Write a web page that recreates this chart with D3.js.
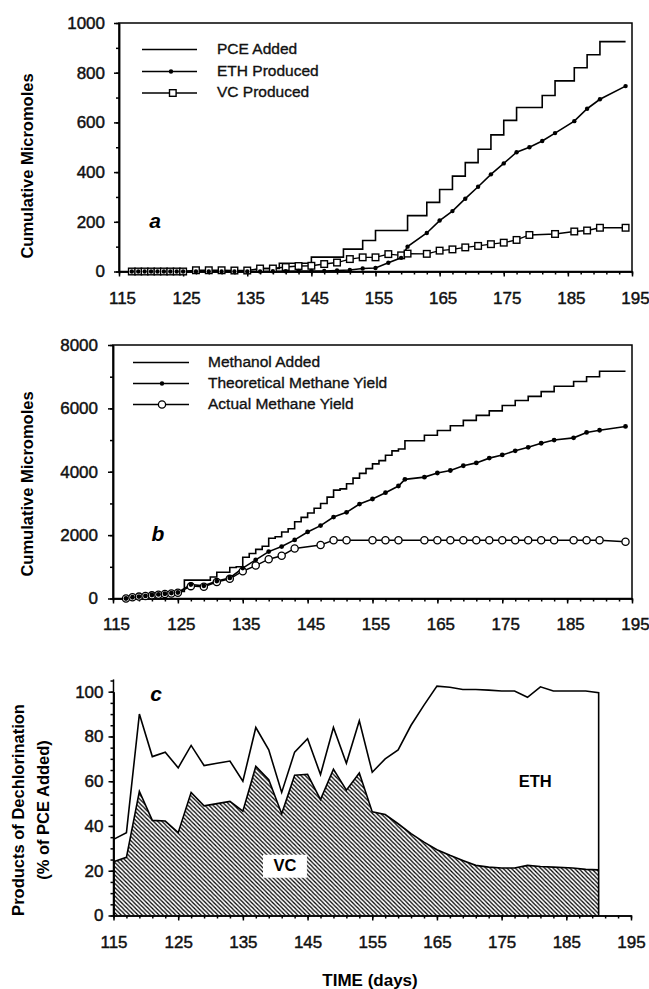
<!DOCTYPE html>
<html>
<head>
<meta charset="utf-8">
<script src="https://cdn.jsdelivr.net/npm/d3@7"></script>
<style>
  body { margin: 0; background: #fff; }
  svg { font-family: "Liberation Sans", Arial, Helvetica, sans-serif; }
</style>
</head>
<body>
<svg id="chart" width="649" height="989"></svg>
<script>
// ---- panel a : cumulative micromoles of PCE / ETH / VC ----
const daysA = [117,118,119,120,121,122,123,124,125,127,129,131,133,135,137,139,141,143,145,147,149,151,153,155,157,159,160,163,165,167,169,171,173,175,177,179,181,183,186,188,190,194];
const ethA  = [0,0,0,0,0,0,0,0,0,0,0,0,0,0,0,1,1,2,2,2,4,6,12,14,35,55,100,155,205,243,293,341,391,435,480,500,525,557,605,655,693,746];
const vcA   = [0,0,0,0,0,0,0,0,0,5,5,5,4,4,12,12,18,22,23,30,36,50,57,57,70,65,72,71,84,89,97,103,110,116,127,147,null,151,161,165,176,176];
const pceDays = [117,137,140,145,150,153,155,160,163,165,167,169,171,173,175,177,181,183,186,188,190,194];
const pceAdded = [0,12,33,58,90,125,165,225,278,330,384,438,492,550,608,660,708,767,820,872,925,925];

// ---- panel b : methanol / methane ----
const daysB = [117,118,119,120,121,122,123,124,125,127,129,131,133,135,137,139,141,143,145,147,149,151,153,155,157,159,160,163,165,167,169,171,173,175,177,179,181,183,186,188,190,194];
const theoMethane = [0,40,60,80,110,130,150,170,190,440,400,550,650,960,1220,1480,1640,1850,2100,2300,2570,2720,2980,3140,3340,3550,3760,3830,3960,4040,4190,4280,4430,4530,4660,4770,4900,5000,5070,5240,5310,5430];
const actMethane  = [0,40,60,80,100,120,140,160,180,390,370,520,620,860,1040,1240,1350,1580,null,1690,1840,1840,null,1840,1840,1840,null,1840,1840,1840,1840,1840,1840,1840,1840,1840,1840,1840,1840,1840,1840,1790];
const methDays  = [117,118,119,120,121,122,123,124,125,126,130,131,133,134,135,136,137,138,139,140,141,142,143,144,145,146,147,148,149,150,151,152,153,154,155,156,157,158,159,160,163,165,167,169,171,173,175,177,179,181,183,186,188,190,194];
const methAdded = [0,50,70,90,120,140,160,190,220,580,680,830,980,1000,1300,1420,1550,1650,1900,1950,2100,2200,2420,2560,2700,2850,3000,3200,3420,3460,3620,3800,3950,4100,4250,4350,4520,4660,4720,4980,5150,5300,5450,5620,5780,5920,6090,6250,6380,6530,6700,6850,7000,7170,7170];

// ---- panel c : products of dechlorination (% of PCE added) ----
const daysC  = [115,117,119,121,123,125,127,129,131,133,135,137,139,141,143,145,147,149,151,153,155,157,159,161,163,165,167,169,171,173,175,177,179,181,183,186,188,190];
const totalC = [34,37,90,71,73,66,76,67,68,69,60,84,74,55,73,79,63,84,68,87,64,70,74,85,94,102.5,102,101,101,100.7,100.3,100.3,97.5,102.2,100.3,100.3,100.3,99.6];
const vcC    = [24,26,55.5,42.5,42.2,37,55,49,50,51,46.6,66.7,60.7,45.5,62.7,63.1,51.8,65.4,56,63.7,46.3,45.1,41,36.6,32.8,29.4,26.9,24.6,22.4,21.6,21.2,21.2,22.4,21.9,21.6,21.2,20.6,20.4];

const xTicks = d3.range(115, 196, 10);
const xMinor = d3.range(115, 196, 2);

const svg = d3.select('#chart');

// hatch pattern for VC area
svg.append('defs').append('pattern')
    .attr('id', 'hatch')
    .attr('patternUnits', 'userSpaceOnUse')
    .attr('width', 4.2).attr('height', 4.2)
  .append('path')
    .attr('d', 'M0,0 L4.2,4.2 M-1,3.2 L1,5.2 M3.2,-1 L5.2,1')
    .attr('stroke', '#000')
    .attr('stroke-width', 1.25);

function styleAxis(g) {
  g.selectAll('path, line').attr('stroke', '#000').attr('stroke-width', 1.5);
  g.selectAll('text').attr('font-size', 17).attr('fill', '#111')
    .attr('stroke', '#111').attr('stroke-width', 0.45);
}

// draws bottom + left axes with minor ticks
function drawAxes(x, y, yMajor, yMinor, opt) {
  const y0 = y.range()[0];
  const x0 = x.range()[0];
  svg.append('g')
    .attr('transform', `translate(0,${y0})`)
    .call(d3.axisBottom(x).tickValues(xMinor).tickSize(3).tickFormat('').tickSizeOuter(0))
    .call(styleAxis);
  svg.append('g')
    .attr('transform', `translate(0,${y0})`)
    .call(d3.axisBottom(x).tickValues(xTicks).tickSize(5).tickPadding(opt.xPad).tickSizeOuter(0).tickFormat(d3.format('d')))
    .call(styleAxis)
    .selectAll('text').attr('dx', opt.xShift);
  svg.append('g')
    .attr('transform', `translate(${x0},0)`)
    .call(d3.axisLeft(y).tickValues(yMinor).tickSize(3).tickFormat('').tickSizeOuter(0))
    .call(styleAxis);
  svg.append('g')
    .attr('transform', `translate(${x0},0)`)
    .call(d3.axisLeft(y).tickValues(yMajor).tickSize(5).tickPadding(opt.yPad).tickSizeOuter(0).tickFormat(d3.format('d')))
    .call(styleAxis);
}

function frame(x, y) {
  svg.append('rect')
    .attr('x', x.range()[0]).attr('y', y.range()[1])
    .attr('width', x.range()[1] - x.range()[0])
    .attr('height', y.range()[0] - y.range()[1])
    .attr('fill', 'none').attr('stroke', '#000').attr('stroke-width', 1.5);
}

function yTitle(lines, cx, cy) {
  const t = svg.append('text')
    .attr('transform', `translate(${cx},${cy}) rotate(-90)`)
    .attr('text-anchor', 'middle')
    .attr('font-size', 16.5).attr('font-weight', 'bold');
  lines.forEach((s, i) => {
    t.append('tspan').attr('x', 0).attr('dy', i ? 25 : 0).text(s);
  });
}

function panelLetter(s, x, y) {
  svg.append('text').attr('x', x).attr('y', y)
    .attr('text-anchor', 'middle').attr('dominant-baseline', 'middle')
    .attr('font-size', 21).attr('font-weight', 'bold').attr('font-style', 'italic')
    .text(s);
}

function legendText(x, y, s) {
  svg.append('text').attr('x', x).attr('y', y).attr('dominant-baseline', 'middle')
    .attr('font-size', 15.5).attr('fill', '#111')
    .attr('stroke', '#111').attr('stroke-width', 0.35)
    .text(s);
}

// ================= PANEL A =================
const xA = d3.scaleLinear().domain([115, 195]).range([119, 632]);
const yA = d3.scaleLinear().domain([0, 1000]).range([271.5, 23]);
frame(xA, yA);
drawAxes(xA, yA, d3.range(0, 1001, 200), d3.range(0, 1001, 100), { xPad: 15, yPad: 9, xShift: 3 });

const lineA = d3.line().x(d => xA(d.t)).y(d => yA(d.v));
svg.append('path')
  .attr('d', lineA.curve(d3.curveStepAfter)(pceDays.map((t, i) => ({ t, v: pceAdded[i] }))))
  .attr('fill', 'none').attr('stroke', '#000').attr('stroke-width', 1.6);
lineA.curve(d3.curveLinear);

const ethPts = daysA.map((t, i) => ({ t, v: ethA[i] }));
const vcPts = daysA.map((t, i) => ({ t, v: vcA[i] })).filter(d => d.v != null);
svg.append('path').attr('d', lineA(ethPts))
  .attr('fill', 'none').attr('stroke', '#000').attr('stroke-width', 1.6);
svg.append('path').attr('d', lineA(vcPts))
  .attr('fill', 'none').attr('stroke', '#000').attr('stroke-width', 1.4);
svg.append('g').selectAll('rect').data(vcPts).join('rect')
  .attr('x', d => xA(d.t) - 3.3).attr('y', d => yA(d.v) - 3.3)
  .attr('width', 6.6).attr('height', 6.6)
  .attr('fill', '#fff').attr('stroke', '#000').attr('stroke-width', 1.4);
svg.append('g').selectAll('circle').data(ethPts).join('circle')
  .attr('cx', d => xA(d.t)).attr('cy', d => yA(d.v)).attr('r', 2.2).attr('fill', '#000');

panelLetter('a', 155, 222);
yTitle(['Cumulative Micromoles'], 33, 166);

// legend a
const legA = [['PCE Added', 'none'], ['ETH Produced', 'dot'], ['VC Produced', 'square']];
legA.forEach((d, i) => {
  const ly = [49.5, 71.5, 93][i];
  svg.append('line').attr('x1', 142).attr('x2', 197).attr('y1', ly).attr('y2', ly)
    .attr('stroke', '#000').attr('stroke-width', 1.5);
  if (d[1] === 'dot') svg.append('circle').attr('cx', 171).attr('cy', ly).attr('r', 2.2);
  if (d[1] === 'square') svg.append('rect').attr('x', 169.5).attr('y', ly - 3.3).attr('width', 6.6).attr('height', 6.6)
    .attr('fill', '#fff').attr('stroke', '#000').attr('stroke-width', 1.4);
  legendText(217, ly, d[0]);
});

// ================= PANEL B =================
const xB = d3.scaleLinear().domain([115, 195]).range([113, 632]);
const yB = d3.scaleLinear().domain([0, 8000]).range([598.5, 345]);
frame(xB, yB);
drawAxes(xB, yB, d3.range(0, 8001, 2000), d3.range(0, 8001, 1000), { xPad: 14, yPad: 10, xShift: 3 });

const lineB = d3.line().x(d => xB(d.t)).y(d => yB(d.v));
svg.append('path')
  .attr('d', lineB.curve(d3.curveStepAfter)(methDays.map((t, i) => ({ t, v: methAdded[i] }))))
  .attr('fill', 'none').attr('stroke', '#000').attr('stroke-width', 1.6);
lineB.curve(d3.curveLinear);

const theoPts = daysB.map((t, i) => ({ t, v: theoMethane[i] }));
const actPts = daysB.map((t, i) => ({ t, v: actMethane[i] })).filter(d => d.v != null);
svg.append('path').attr('d', lineB(actPts))
  .attr('fill', 'none').attr('stroke', '#000').attr('stroke-width', 1.4);
svg.append('path').attr('d', lineB(theoPts))
  .attr('fill', 'none').attr('stroke', '#000').attr('stroke-width', 1.6);
svg.append('g').selectAll('circle').data(actPts).join('circle')
  .attr('cx', d => xB(d.t)).attr('cy', d => yB(d.v)).attr('r', 3.6)
  .attr('fill', '#fff').attr('stroke', '#000').attr('stroke-width', 1.3);
svg.append('g').selectAll('circle').data(theoPts).join('circle')
  .attr('cx', d => xB(d.t)).attr('cy', d => yB(d.v)).attr('r', 2.4).attr('fill', '#000');

panelLetter('b', 158, 535);
yTitle(['Cumulative Micromoles'], 33, 484);

const legB = [['Methanol Added', 'none'], ['Theoretical Methane Yield', 'dot'], ['Actual Methane Yield', 'circle']];
legB.forEach((d, i) => {
  const ly = [362.5, 383.5, 404.5][i];
  svg.append('line').attr('x1', 133).attr('x2', 189).attr('y1', ly).attr('y2', ly)
    .attr('stroke', '#000').attr('stroke-width', 1.5);
  if (d[1] === 'dot') svg.append('circle').attr('cx', 162).attr('cy', ly).attr('r', 2.2);
  if (d[1] === 'circle') svg.append('circle').attr('cx', 162).attr('cy', ly).attr('r', 3.6)
    .attr('fill', '#fff').attr('stroke', '#000').attr('stroke-width', 1.3);
  legendText(208, ly, d[0]);
});

// ================= PANEL C =================
const xC = d3.scaleLinear().domain([115, 195]).range([113.5, 631]);
const yC = d3.scaleLinear().domain([0, 100]).range([915.5, 691.7]);

const cPts = daysC.map((t, i) => ({ t, tot: totalC[i], vc: vcC[i] }));
svg.append('path')
  .attr('d', d3.area().x(d => xC(d.t)).y0(yC(0)).y1(d => yC(d.vc))(cPts))
  .attr('fill', 'url(#hatch)');
svg.append('path')
  .attr('d', d3.line().x(d => xC(d.t)).y(d => yC(d.vc))(cPts))
  .attr('fill', 'none').attr('stroke', '#000').attr('stroke-width', 1.6);
const last = cPts[cPts.length - 1];
svg.append('path')
  .attr('d', d3.line().x(d => xC(d.t)).y(d => yC(d.tot))(cPts) + `L${xC(last.t)},${yC(0)}`)
  .attr('fill', 'none').attr('stroke', '#000').attr('stroke-width', 1.6);

drawAxes(xC, yC, d3.range(0, 101, 20), d3.range(0, 106, 5), { xPad: 15, yPad: 5, xShift: 0 });
// y axis line runs a little above 100
svg.append('line').attr('x1', xC(115)).attr('x2', xC(115)).attr('y1', yC(0)).attr('y2', yC(105.5))
  .attr('stroke', '#000').attr('stroke-width', 1.5);

// VC / ETH labels
const vcBox = svg.append('g').attr('transform', `translate(${xC(141.5)},${yC(22)})`);
vcBox.append('rect').attr('x', -22).attr('y', -11.5).attr('width', 44).attr('height', 23).attr('fill', '#fff');
vcBox.append('text').attr('text-anchor', 'middle').attr('dominant-baseline', 'middle')
  .attr('font-size', 16.5).attr('font-weight', 'bold').text('VC');
svg.append('text').attr('x', xC(180.2)).attr('y', yC(59.5))
  .attr('text-anchor', 'middle').attr('dominant-baseline', 'middle')
  .attr('font-size', 16.5).attr('font-weight', 'bold').text('ETH');

panelLetter('c', 156, 695);
yTitle(['Products of Dechlorination', '(% of PCE Added)'], 24, 810);

svg.append('text').attr('x', 370).attr('y', 986)
  .attr('text-anchor', 'middle').attr('font-size', 17).attr('font-weight', 'bold')
  .text('TIME (days)');
</script>
</body>
</html>
